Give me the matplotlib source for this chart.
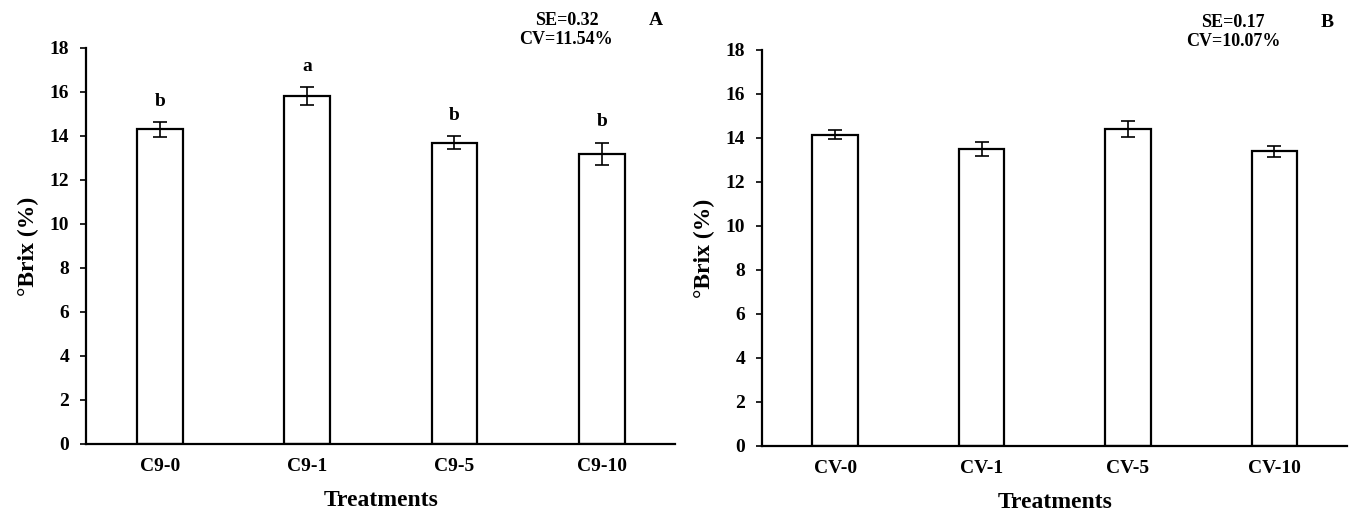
import matplotlib
matplotlib.use("Agg")
import matplotlib.pyplot as plt

plt.rcParams['font.family'] = ['Liberation Serif', 'DejaVu Serif']
plt.rcParams['font.weight'] = 'bold'

# panel A
cats_a = ['C9-0', 'C9-1', 'C9-5', 'C9-10']
vals_a = [14.3, 15.8, 13.7, 13.2]
err_a = [0.35, 0.4, 0.3, 0.5]
letters_a = ['b', 'a', 'b', 'b']
stats_a = 'SE=0.32\nCV=11.54%'

# panel B
cats_b = ['CV-0', 'CV-1', 'CV-5', 'CV-10']
vals_b = [14.15, 13.5, 14.4, 13.4]
err_b = [0.2, 0.3, 0.35, 0.25]
stats_b = 'SE=0.17\nCV=10.07%'

fig = plt.figure(figsize=(13.52, 5.15), dpi=100)
ax1 = fig.add_axes([0.0636, 0.138, 0.436, 0.769])
ax2 = fig.add_axes([0.5636, 0.134, 0.433, 0.769])


def panel(ax, cats, vals, errs, letters, stats, tag, stats_x):
    x = range(len(cats))
    ax.bar(x, vals, width=0.31, color='white', edgecolor='black', linewidth=1.6)
    ax.errorbar(x, vals, yerr=errs, fmt='none', ecolor='black', elinewidth=1.2,
                capsize=5, capthick=1.2)
    if letters:
        for i, (v, e, l) in enumerate(zip(vals, errs, letters)):
            ax.text(i, v + e + 0.55, l, ha='center', va='bottom', fontsize=14,
                    fontweight='bold')
    ax.set_xlim(-0.5, 3.5)
    ax.set_ylim(0, 18)
    ax.set_yticks(range(0, 19, 2))
    ax.set_xticks(list(x))
    ax.set_xticklabels(cats, fontsize=14, fontweight='bold')
    ax.tick_params(axis='x', length=0, pad=10)
    ax.tick_params(axis='y', labelsize=14, length=4, width=1.2, direction='out',
                   pad=8)
    for t in ax.get_yticklabels():
        t.set_fontweight('bold')
    for s in ['top', 'right']:
        ax.spines[s].set_visible(False)
    ax.spines['left'].set_linewidth(1.6)
    ax.spines['bottom'].set_linewidth(1.6)
    ax.set_xlabel('Treatments', fontsize=17, fontweight='bold', labelpad=11)
    ax.set_ylabel('°Brix (%)', fontsize=17, fontweight='bold', labelpad=8)
    ax.text(stats_x, 1.045, stats, transform=ax.transAxes, ha='center', va='center',
            fontsize=13, fontweight='bold', linespacing=1.15)
    ax.text(0.955, 1.07, tag, transform=ax.transAxes, ha='left', va='center',
            fontsize=14, fontweight='bold')


panel(ax1, cats_a, vals_a, err_a, letters_a, stats_a, 'A', 0.815)
panel(ax2, cats_b, vals_b, err_b, None, stats_b, 'B', 0.805)

fig.savefig('out.png', dpi=100)
